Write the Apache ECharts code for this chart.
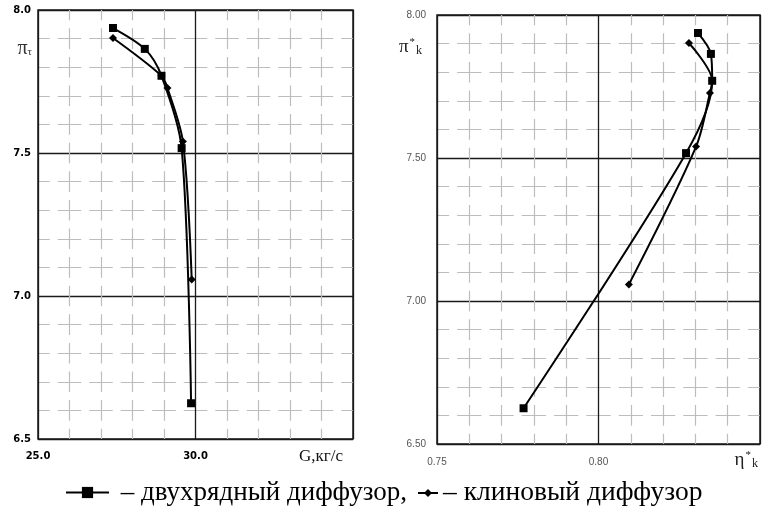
<!DOCTYPE html>
<html>
<head>
<meta charset="utf-8">
<script src="https://cdn.jsdelivr.net/npm/echarts@6/dist/echarts.min.js"></script>
<style>
html,body{margin:0;padding:0;background:#fff;}
#chart{width:766px;height:510px;}
</style>
</head>
<body>
<div id="chart"></div>
<script>
// Series names
const seriesNames = ['двухрядный диффузор', 'клиновый диффузор'];
// Left chart: G (kg/s) vs pi
const gA  = [27.38, 28.39, 28.92, 29.56, 29.86];
const piA = [7.937, 7.864, 7.77, 7.517, 6.625];
const gB  = [27.38, 28.92, 29.11, 29.60, 29.88];
const piB = [7.902, 7.77, 7.727, 7.54, 7.058];
// Right chart: eta vs pi
const etaA = [0.8308, 0.8348, 0.8352, 0.8271, 0.7768];
const etaB = [0.8280, 0.8352, 0.8345, 0.8302, 0.8094];
// Axis ranges / tick labels
const gTicks = [25, 30, 35];
const piTicks = [6.5, 7.0, 7.5, 8.0];
const etaTicks = [0.75, 0.80, 0.85];

const pairs = (xs, ys) => xs.map((x, i) => [x, ys[i]]);

const L = {left: 38, top: 10, width: 315, height: 429};
const R = {left: 437, top: 15, width: 323, height: 429};
const cell = (len, n) => len / n;

function minorLine(cellLen) {
  const gap = 8;
  return {show: true, lineStyle: {color: '#bdbdbd', width: 1.2, type: [cellLen - gap, gap], dashOffset: cellLen / 2 - gap / 2}};
}
const majorLine = {show: true, lineStyle: {color: '#1a1a1a', width: 1.3, type: 'solid'}};

const serif = 'Liberation Serif';

const chart = echarts.init(document.getElementById('chart'), null, {renderer: 'canvas'});
chart.setOption({
  animation: false,
  backgroundColor: '#fff',
  grid: [
    Object.assign({show: true, borderColor: '#1a1a1a', borderWidth: 1.5, containLabel: false, outerBoundsMode: 'none'}, L),
    Object.assign({show: true, borderColor: '#1a1a1a', borderWidth: 1.5, containLabel: false, outerBoundsMode: 'none'}, R)
  ],
  xAxis: [
    {
      gridIndex: 0, type: 'value', min: gTicks[0], max: gTicks[2], interval: 5,
      axisLine: {show: false}, axisTick: {show: false},
      minorTick: {show: false, splitNumber: 5},
      splitLine: majorLine,
      minorSplitLine: minorLine(cell(L.height, 15)),
      axisLabel: {
        margin: 12, color: '#000', fontFamily: 'DejaVu Sans', fontWeight: 'bold', fontSize: 10,
        formatter: v => (v === gTicks[2] ? '' : v.toFixed(1))
      },
      name: 'G,кг/с', nameLocation: 'end', nameGap: -54, nameMoveOverlap: false,
      nameTextStyle: {fontFamily: serif, fontSize: 17, color: '#111', align: 'left', verticalAlign: 'top', padding: [9, 0, 0, 0]}
    },
    {
      gridIndex: 1, type: 'value', min: etaTicks[0], max: etaTicks[2], interval: 0.05,
      axisLine: {show: false}, axisTick: {show: false},
      minorTick: {show: false, splitNumber: 5},
      splitLine: majorLine,
      minorSplitLine: minorLine(cell(R.height, 15)),
      axisLabel: {
        margin: 13, color: '#555', fontFamily: 'Liberation Sans', fontSize: 10,
        formatter: v => (Math.abs(v - etaTicks[2]) < 1e-9 ? '' : v.toFixed(2))
      },
      name: '{e|η}{s|*}{k|k}', nameLocation: 'end', nameGap: -2, nameMoveOverlap: false,
      nameTextStyle: {
        align: 'right', verticalAlign: 'top', padding: [6, 0, 0, 0],
        rich: {
          e: {fontFamily: serif, fontSize: 19, color: '#222', lineHeight: 20, verticalAlign: 'middle'},
          s: {fontFamily: serif, fontSize: 11, color: '#222', verticalAlign: 'top', padding: [0, 1, 0, 1]},
          k: {fontFamily: serif, fontSize: 12, color: '#222', verticalAlign: 'bottom'}
        }
      }
    }
  ],
  yAxis: [
    {
      gridIndex: 0, type: 'value', min: piTicks[0], max: piTicks[3], interval: 0.5,
      axisLine: {show: false}, axisTick: {show: false},
      minorTick: {show: false, splitNumber: 5},
      splitLine: majorLine,
      minorSplitLine: minorLine(cell(L.width, 10)),
      axisLabel: {margin: 7, color: '#000', fontFamily: 'DejaVu Sans', fontWeight: 'bold', fontSize: 10, formatter: v => v.toFixed(1)},
      name: '{p|π}{t|τ}', nameLocation: 'end', nameGap: -30, nameMoveOverlap: false,
      nameTextStyle: {
        align: 'right', verticalAlign: 'top', padding: [0, 6, 0, 0],
        rich: {
          p: {fontFamily: serif, fontSize: 20, color: '#333', lineHeight: 18},
          t: {fontFamily: serif, fontSize: 11, color: '#333', verticalAlign: 'bottom'}
        }
      }
    },
    {
      gridIndex: 1, type: 'value', min: piTicks[0], max: piTicks[3], interval: 0.5,
      axisLine: {show: false}, axisTick: {show: false},
      minorTick: {show: false, splitNumber: 5},
      splitLine: majorLine,
      minorSplitLine: minorLine(cell(R.width, 10)),
      axisLabel: {margin: 11, color: '#555', fontFamily: 'Liberation Sans', fontSize: 10, formatter: v => v.toFixed(2)},
      name: '{p|π}{s|*}{k|k}', nameLocation: 'end', nameGap: -22, nameMoveOverlap: false,
      nameTextStyle: {
        align: 'right', verticalAlign: 'top', padding: [0, 15, 0, 0],
        rich: {
          p: {fontFamily: serif, fontSize: 19, color: '#222', lineHeight: 20},
          s: {fontFamily: serif, fontSize: 11, color: '#222', verticalAlign: 'top', padding: [0, 1, 0, 1]},
          k: {fontFamily: serif, fontSize: 12, color: '#222', verticalAlign: 'bottom'}
        }
      }
    }
  ],
  legend: [
    {
      data: [seriesNames[0]], left: 65, top: 479, orient: 'horizontal', padding: 0,
      itemWidth: 43, itemHeight: 14, selectedMode: false,
      formatter: ' – {name},',
      textStyle: {fontFamily: serif, fontSize: 27, color: '#000'}
    },
    {
      data: [seriesNames[1]], left: 417, top: 479, orient: 'horizontal', padding: 0,
      itemWidth: 20, itemHeight: 10, selectedMode: false,
      formatter: '– {name}',
      textStyle: {fontFamily: serif, fontSize: 27.5, color: '#000'}
    }
  ],
  series: [
    {
      name: seriesNames[0], type: 'line', xAxisIndex: 0, yAxisIndex: 0,
      data: pairs(gA, piA), smooth: 0.3, symbol: 'rect', symbolSize: 8,
      lineStyle: {color: '#000', width: 2}, itemStyle: {color: '#000'}
    },
    {
      name: seriesNames[1], type: 'line', xAxisIndex: 0, yAxisIndex: 0,
      data: pairs(gB, piB), smooth: 0.3, symbol: 'diamond', symbolSize: 8,
      lineStyle: {color: '#000', width: 2}, itemStyle: {color: '#000'}
    },
    {
      name: seriesNames[0], type: 'line', xAxisIndex: 1, yAxisIndex: 1,
      data: pairs(etaA, piA), smooth: 0.3, symbol: 'rect', symbolSize: 8,
      lineStyle: {color: '#000', width: 2}, itemStyle: {color: '#000'}
    },
    {
      name: seriesNames[1], type: 'line', xAxisIndex: 1, yAxisIndex: 1,
      data: pairs(etaB, piB), smooth: 0.3, symbol: 'diamond', symbolSize: 8,
      lineStyle: {color: '#000', width: 2}, itemStyle: {color: '#000'}
    }
  ]
});
</script>
</body>
</html>
